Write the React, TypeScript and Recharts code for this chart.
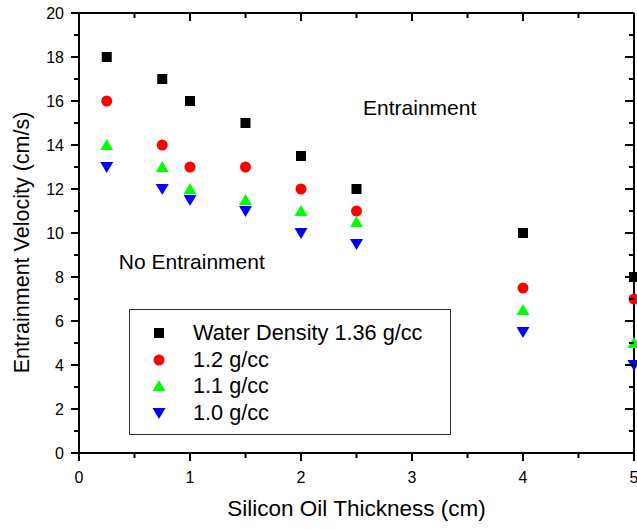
import { ScatterChart, Scatter, XAxis, YAxis, Legend, ReferenceDot } from 'recharts'

// oil layer thickness (cm)
const thickness = [0.25, 0.75, 1, 1.5, 2, 2.5, 4, 5]

// entrainment velocity (cm/s) for each water density
const water136 = [18, 17, 16, 15, 13.5, 12, 10, 8]
const density12 = [16, 14, 13, 13, 12, 11, 7.5, 7]
const density11 = [14, 13, 12, 11.5, 11, 10.5, 6.5, 5]
const density10 = [13, 12, 11.5, 11, 10, 9.5, 5.5, 4]

const seriesNames = ['Water Density 1.36 g/cc', '1.2 g/cc', '1.1 g/cc', '1.0 g/cc']

const xTicks = [0, 0.5, 1, 1.5, 2, 2.5, 3, 3.5, 4, 4.5, 5]
const yTicks = [0, 1, 2, 3, 4, 5, 6, 7, 8, 9, 10, 11, 12, 13, 14, 15, 16, 17, 18, 19, 20]

const toPoints = (values: number[]) => thickness.map((x, i) => ({ x, y: values[i] }))

const FONT = '"Liberation Sans", Arial, sans-serif'

// marker shapes
const Square = ({ cx, cy }: any) => <rect x={cx - 5} y={cy - 5} width={10} height={10} fill="#000" />
const Circle = ({ cx, cy }: any) => <circle cx={cx} cy={cy} r={5.5} fill="#ff0000" />
const TriUp = ({ cx, cy }: any) => (
  <polygon points={`${cx},${cy - 6} ${cx - 6.5},${cy + 5} ${cx + 6.5},${cy + 5}`} fill="#00ff00" />
)
const TriDown = ({ cx, cy }: any) => (
  <polygon points={`${cx},${cy + 6} ${cx - 6.5},${cy - 5} ${cx + 6.5},${cy - 5}`} fill="#0000ff" />
)
const NoMark = () => <g />

const markers = [Square, Circle, TriUp, TriDown]

const isMajorX = (v: number) => Number.isInteger(v)
const isMajorY = (v: number) => v % 2 === 0

// tick renderers: axis tickSize is 0, so (x, y) sits on the axis line
const BottomTick = ({ x, y, payload }: any) => {
  const major = isMajorX(payload.value)
  return (
    <g>
      <line x1={x} y1={y} x2={x} y2={y + (major ? 8 : 5)} stroke="#000" strokeWidth={2} />
      {major && (
        <text x={x} y={y + 30} textAnchor="middle" fontSize={16} fill="#000">
          {payload.value}
        </text>
      )}
    </g>
  )
}

const TopTick = ({ x, y, payload }: any) => {
  const major = isMajorX(payload.value)
  return <line x1={x} y1={y} x2={x} y2={y + (major ? 8 : 5)} stroke="#000" strokeWidth={2} />
}

const LeftTick = ({ x, y, payload }: any) => {
  const major = isMajorY(payload.value)
  return (
    <g>
      <line x1={x - (major ? 8 : 5)} y1={y} x2={x} y2={y} stroke="#000" strokeWidth={2} />
      {major && (
        <text x={x - 15} y={y + 6} textAnchor="end" fontSize={16} fill="#000">
          {payload.value}
        </text>
      )}
    </g>
  )
}

const RightTick = ({ x, y, payload }: any) => {
  const major = isMajorY(payload.value)
  return <line x1={x - (major ? 9 : 5)} y1={y} x2={x} y2={y} stroke="#000" strokeWidth={2} />
}

const renderLegend = () => (
  <div
    style={{
      position: 'relative',
      width: 322,
      height: 126,
      border: '1.5px solid #333',
      boxSizing: 'border-box',
      background: '#fff',
      fontFamily: FONT,
    }}
  >
    {seriesNames.map((name, i) => {
      const Marker = markers[i]
      return (
        <div
          key={name}
          style={{ position: 'absolute', left: 0, top: 10 + i * 26.5, height: 26, width: 320, display: 'flex', alignItems: 'center' }}
        >
          <svg width={20} height={20} style={{ position: 'absolute', left: 19 }}>
            <Marker cx={10} cy={10} />
          </svg>
          <span style={{ position: 'absolute', left: 63, fontSize: 21.7, color: '#000', whiteSpace: 'nowrap' }}>{name}</span>
        </div>
      )
    })}
  </div>
)

const axisLine = { stroke: '#000', strokeWidth: 2 }

export default function App() {
  const data = [water136, density12, density11, density10].map(toPoints)

  return (
    <div style={{ position: 'absolute', left: 0, top: 0, width: 637, height: 529, background: '#fff', fontFamily: FONT }}>
      <ScatterChart width={637} height={529} margin={{ top: 0, right: 0, bottom: 0, left: 0 }}>
        <XAxis
          type="number"
          dataKey="x"
          domain={[0, 5]}
          ticks={xTicks}
          height={76}
          axisLine={axisLine}
          tickLine={false}
          tickSize={0}
          tickMargin={0}
          tick={<BottomTick />}
          interval={0}
          label={{
            content: ({ viewBox }: any) => (
              <text x={viewBox.x + viewBox.width / 2} y={viewBox.y + 63} textAnchor="middle" fontSize={22.5} fill="#000">
                Silicon Oil Thickness (cm)
              </text>
            ),
          }}
        />
        <XAxis
          xAxisId="top"
          orientation="top"
          type="number"
          dataKey="x"
          domain={[0, 5]}
          ticks={xTicks}
          height={13}
          axisLine={axisLine}
          tickLine={false}
          tickSize={0}
          tickMargin={0}
          tick={<TopTick />}
          interval={0}
        />
        <YAxis
          type="number"
          dataKey="y"
          domain={[0, 20]}
          ticks={yTicks}
          width={79}
          axisLine={axisLine}
          tickLine={false}
          tickSize={0}
          tickMargin={0}
          tick={<LeftTick />}
          interval={0}
          label={{
            content: () => (
              <text x={28.5} y={242.5} transform="rotate(-90, 28.5, 242.5)" textAnchor="middle" fontSize={21.5} fill="#000">
                Entrainment Velocity (cm/s)
              </text>
            ),
          }}
        />
        <YAxis
          yAxisId="right"
          orientation="right"
          type="number"
          dataKey="y"
          domain={[0, 20]}
          ticks={yTicks}
          width={3}
          axisLine={axisLine}
          tickLine={false}
          tickSize={0}
          tickMargin={0}
          tick={<RightTick />}
          interval={0}
        />
        {data.map((points, i) => (
          <Scatter
            key={seriesNames[i]}
            name={seriesNames[i]}
            data={points}
            shape={markers[i]}
            isAnimationActive={false}
          />
        ))}
        {/* binds the frame axes (top / right) so they get drawn */}
        <Scatter
          data={data[0]}
          xAxisId="top"
          yAxisId="right"
          shape={NoMark}
          legendType="none"
          isAnimationActive={false}
        />
        <ReferenceDot
          x={2.55}
          y={15.68}
          r={1}
          fill="none"
          stroke="none"
          label={{ value: 'Entrainment', position: 'right', offset: 0, fontSize: 21, fill: '#000' }}
        />
        <ReferenceDot
          x={0.35}
          y={8.68}
          r={1}
          fill="none"
          stroke="none"
          label={{ value: 'No Entrainment', position: 'right', offset: 0, fontSize: 21, fill: '#000' }}
        />
        <Legend
          layout="vertical"
          align="center"
          verticalAlign="middle"
          content={renderLegend}
          wrapperStyle={{ left: 129, top: 309, width: 322, height: 126 }}
        />
      </ScatterChart>
    </div>
  )
}
